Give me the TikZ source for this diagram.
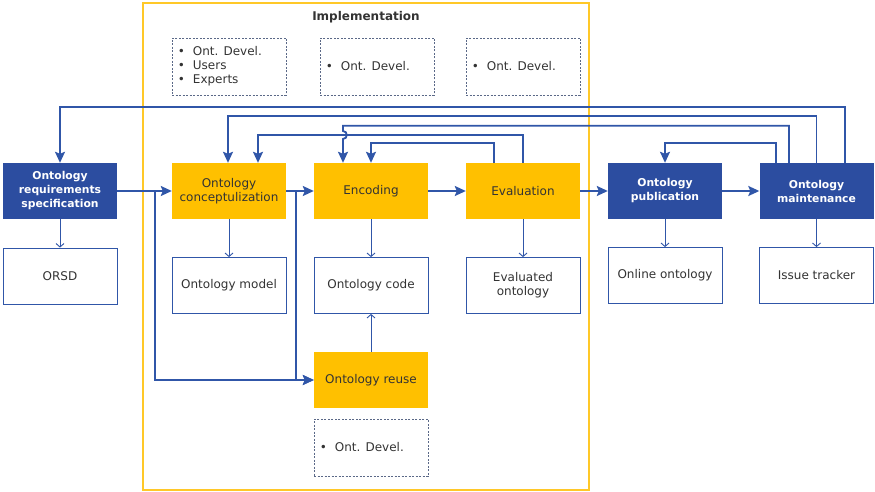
\documentclass[tikz,border=0pt]{standalone}
\usepackage{fontspec}
\setmainfont{DejaVu Sans}
\usetikzlibrary{arrows.meta}
\definecolor{dblue}{RGB}{44,77,160}
\definecolor{lblue}{RGB}{48,86,168}
\definecolor{yel}{RGB}{255,192,0}
\definecolor{frameyel}{RGB}{255,200,40}
\definecolor{txt}{RGB}{51,51,51}
\definecolor{dashc}{RGB}{90,104,135}
\begin{document}
\begin{tikzpicture}[x=1pt,y=-1pt,
 phase/.style={minimum width=114pt, minimum height=56pt, inner sep=0pt, align=center},
 bluebox/.style={phase, fill=dblue, text=white, font=\fontsize{10.8}{14}\selectfont\bfseries},
 yelbox/.style={phase, fill=yel, text=txt, font=\fontsize{12}{14}\selectfont},
 outbox/.style={phase, draw=lblue, line width=0.8pt, fill=white, text=txt, font=\fontsize{12}{14}\selectfont},
 dashbox/.style={minimum width=114pt, minimum height=57pt, inner sep=0pt, draw=dashc, dash pattern=on 2pt off 1.5pt, line width=0.7pt},
 listtxt/.style={anchor=west, inner sep=0pt, align=left, text=txt, font=\fontsize{12}{14}\selectfont},
 flow/.style={draw=lblue, line width=1.8pt, -{Stealth[length=11pt,width=10pt,inset=2pt]}},
 thin/.style={draw=lblue, line width=0.9pt, -{Straight Barb[length=3.5pt,width=8pt]}},
]
\useasboundingbox (0,0) rectangle (875,492);
% frame
\draw[frameyel, line width=1.5pt] (143,3) rectangle (589,490);
\node[font=\fontsize{12}{14}\selectfont\bfseries, text=txt] (title) at (366,17) {Implementation};

% phases
\node[bluebox] (ors) at (60,191) {Ontology\\requirements\\specification};
\node[yelbox] (conc) at (229,191) {Ontology\\conceptulization};
\node[yelbox] (enc) at (371,191) {Encoding};
\node[yelbox] (eval) at (523,191) {Evaluation};
\node[bluebox] (pub) at (665,191) {Ontology\\publication};
\node[bluebox] (maint) at (816.5,191) {Ontology\\maintenance};
\node[yelbox] (reuse) at (371,380) {Ontology reuse};

% outputs
\node[outbox] (orsd) at (60,276) {ORSD};
\node[outbox] (model) at (229,285.5) {Ontology model};
\node[outbox] (code) at (371,285.5) {Ontology code};
\node[outbox] (evo) at (523,285.5) {Evaluated\\ontology};
\node[outbox] (online) at (665,275.5) {Online ontology};
\node[outbox] (issue) at (816.5,275.5) {Issue tracker};

% dashed boxes
\node[dashbox] (d1) at (229,66.5) {};
\node[dashbox] (d2) at (377,66.5) {};
\node[dashbox] (d3) at (523,66.5) {};
\node[dashbox] (d4) at (371,447.5) {};
\node[listtxt] (l1) at ([xshift=6]d1.west) {\textbullet\hspace{8pt}Ont. Devel.\\\textbullet\hspace{8pt}Users\\\textbullet\hspace{8pt}Experts};
\node[listtxt] (l2) at ([xshift=6]d2.west) {\textbullet\hspace{8pt}Ont. Devel.};
\node[listtxt] (l3) at ([xshift=6]d3.west) {\textbullet\hspace{8pt}Ont. Devel.};
\node[listtxt] (l4) at ([xshift=6]d4.west) {\textbullet\hspace{8pt}Ont. Devel.};

% forward flow
\draw[flow] (ors.east) -- (conc.west);
\draw[flow] (conc.east) -- (enc.west);
\draw[flow] (enc.east) -- (eval.west);
\draw[flow] (eval.east) -- (pub.west);
\draw[flow] (pub.east) -- (maint.west);
\draw[flow] ([xshift=38]ors.east) |- (reuse.west);
\draw[flow] ([xshift=10]conc.east) |- (reuse.west);

% feedback
\draw[flow] ([xshift=28.5]maint.north) -- ++(0,-56) -| (ors.north);
\draw[flow] (maint.north) -- ++(0,-47) -| ([xshift=-1]conc.north);
\draw[flow] ([xshift=-27.5]maint.north) -- ++(0,-37) -| (343,131)
   .. controls (348,131) and (348,139) .. (343,139) -- ([xshift=-28]enc.north);
\draw[flow] (eval.north) -- ++(0,-28) -| ([xshift=29]conc.north);
\draw[flow] ([xshift=-29]eval.north) -- ++(0,-20) -| (enc.north);
\draw[flow] ([xshift=-40.5]maint.north) -- ++(0,-20) -| (pub.north);

% outputs arrows
\draw[thin] (ors.south) -- (orsd.north);
\draw[thin] (conc.south) -- (model.north);
\draw[thin] (enc.south) -- (code.north);
\draw[thin] (eval.south) -- (evo.north);
\draw[thin] (pub.south) -- (online.north);
\draw[thin] (maint.south) -- (issue.north);
\draw[thin] (reuse.north) -- (code.south);
\end{tikzpicture}
\end{document}
